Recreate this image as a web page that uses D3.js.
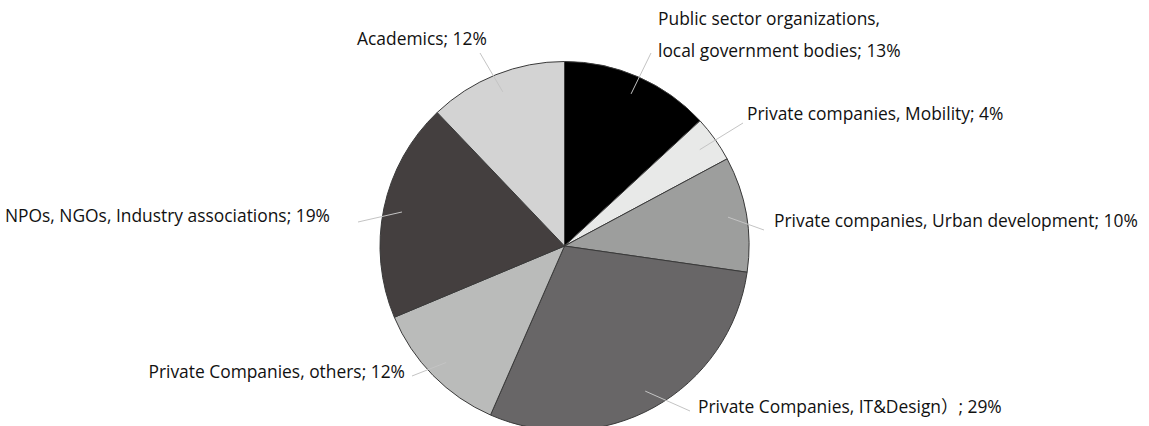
<!DOCTYPE html>
<html>
<head>
<meta charset="utf-8">
<script src="https://cdn.jsdelivr.net/npm/d3@7"></script>
<style>
  body { margin: 0; background: #fff; }
  text { font-family: "Open Sans", "Noto Sans", "Noto Sans CJK JP", sans-serif; font-size: 17.4px; fill: #111; }
</style>
</head>
<body>
<div id="chart"></div>
<script>
// data
var categories = [
  ["Public sector organizations,", "local government bodies; 13%"],
  ["Private companies, Mobility; 4%"],
  ["Private companies, Urban development; 10%"],
  ["Private Companies, IT&Design\uff09; 29%"],
  ["Private Companies, others; 12%"],
  ["NPOs, NGOs, Industry associations; 19%"],
  ["Academics; 12%"]
];
var values = [13, 4, 10, 29, 12, 19, 12];
var colors = ["#000000", "#e8e9e8", "#9d9e9d", "#686667", "#babbba", "#443f3f", "#d3d3d3"];

// label layout: text position, anchor, end of leader line
var labelPos = [
  { x: 658, y: 25, anchor: "start", lx: 651, ly: 53 },
  { x: 747, y: 120, anchor: "start", lx: 743, ly: 123 },
  { x: 774, y: 227, anchor: "start", lx: 764, ly: 230 },
  { x: 698, y: 413, anchor: "start", lx: 690, ly: 411 },
  { x: 405, y: 378, anchor: "end", lx: 412, ly: 376 },
  { x: 330, y: 222, anchor: "end", lx: 358, ly: 222 },
  { x: 357, y: 45, anchor: "start", lx: 480, ly: 53 }
];

var width = 1149, height = 426;
var cx = 564.5, cy = 246, radius = 184.5;

var svg = d3.select("#chart").append("svg")
    .attr("width", width)
    .attr("height", height);

var pie = d3.pie().sort(null).value(d => d);
var arcs = pie(values);

var arc = d3.arc().innerRadius(0).outerRadius(radius);
var inner = d3.arc().innerRadius(radius * 0.9).outerRadius(radius * 0.9);

var g = svg.append("g")
    .attr("transform", "translate(" + cx + "," + cy + ")");

g.selectAll("path")
    .data(arcs)
    .enter().append("path")
    .attr("d", arc)
    .attr("fill", (d, i) => colors[i])
    .attr("stroke", "#3a3a3a")
    .attr("stroke-width", 1);

// leader lines
svg.selectAll(".leader")
    .data(arcs)
    .enter().append("line")
    .classed("leader", true)
    .attr("x1", d => cx + inner.centroid(d)[0])
    .attr("y1", d => cy + inner.centroid(d)[1])
    .attr("x2", (d, i) => labelPos[i].lx)
    .attr("y2", (d, i) => labelPos[i].ly)
    .attr("stroke", "#c4c4c4")
    .attr("stroke-width", 1);

// labels
var labels = svg.selectAll(".label")
    .data(categories)
    .enter().append("text")
    .classed("label", true)
    .attr("x", (d, i) => labelPos[i].x)
    .attr("y", (d, i) => labelPos[i].y)
    .attr("dy", "0.35em")
    .style("text-anchor", (d, i) => labelPos[i].anchor);

labels.selectAll("tspan")
    .data((d, i) => d.map(t => ({ t: t, i: i })))
    .enter().append("tspan")
    .attr("x", d => labelPos[d.i].x)
    .attr("dy", (d, j) => j === 0 ? 0 : 32)
    .text(d => d.t);
</script>
</body>
</html>
